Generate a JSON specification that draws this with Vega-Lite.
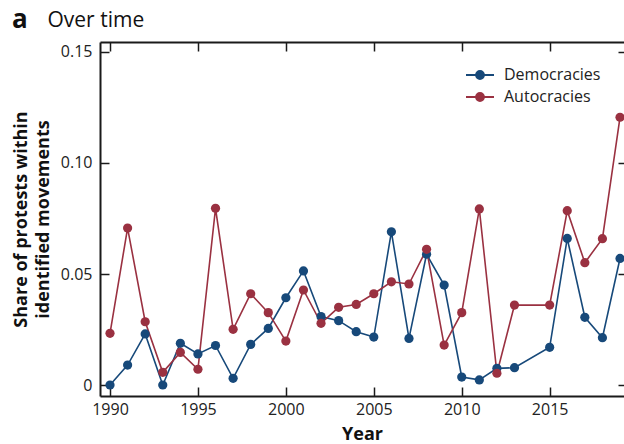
{
  "$schema": "https://vega.github.io/schema/vega-lite/v6.json",
  "autosize": "none",
  "width": 524,
  "height": 354,
  "padding": {"left": 100, "top": 42, "right": 0, "bottom": 48},
  "background": "white",
  "config": {
    "view": {"stroke": null},
    "font": "Open Sans",
    "axis": {"grid": false, "domainColor": "#1a1a1a", "tickColor": "#1a1a1a", "domainWidth": 2, "tickWidth": 1.5, "labelColor": "#222", "titleColor": "#111"}
  },
  "title": {"text": "a", "anchor": "start", "frame": "group", "fontSize": 26, "fontWeight": "bold", "color": "#111", "dx": -88, "offset": 0, "dy": 24},
  "data": {"values": [
    {"year": 1990, "group": "Democracies", "share": 0},
    {"year": 1991, "group": "Democracies", "share": 0.009},
    {"year": 1992, "group": "Democracies", "share": 0.023},
    {"year": 1993, "group": "Democracies", "share": 0},
    {"year": 1994, "group": "Democracies", "share": 0.0188},
    {"year": 1995, "group": "Democracies", "share": 0.014},
    {"year": 1996, "group": "Democracies", "share": 0.0178},
    {"year": 1997, "group": "Democracies", "share": 0.003},
    {"year": 1998, "group": "Democracies", "share": 0.0183},
    {"year": 1999, "group": "Democracies", "share": 0.0255},
    {"year": 2000, "group": "Democracies", "share": 0.0393},
    {"year": 2001, "group": "Democracies", "share": 0.0514},
    {"year": 2002, "group": "Democracies", "share": 0.0308},
    {"year": 2003, "group": "Democracies", "share": 0.029},
    {"year": 2004, "group": "Democracies", "share": 0.024},
    {"year": 2005, "group": "Democracies", "share": 0.0216},
    {"year": 2006, "group": "Democracies", "share": 0.069},
    {"year": 2007, "group": "Democracies", "share": 0.021},
    {"year": 2008, "group": "Democracies", "share": 0.0589},
    {"year": 2009, "group": "Democracies", "share": 0.045},
    {"year": 2010, "group": "Democracies", "share": 0.0036},
    {"year": 2011, "group": "Democracies", "share": 0.0023},
    {"year": 2012, "group": "Democracies", "share": 0.0075},
    {"year": 2013, "group": "Democracies", "share": 0.0078},
    {"year": 2015, "group": "Democracies", "share": 0.017},
    {"year": 2016, "group": "Democracies", "share": 0.066},
    {"year": 2017, "group": "Democracies", "share": 0.0305},
    {"year": 2018, "group": "Democracies", "share": 0.0213},
    {"year": 2019, "group": "Democracies", "share": 0.057},
    {"year": 1990, "group": "Autocracies", "share": 0.0233},
    {"year": 1991, "group": "Autocracies", "share": 0.0707},
    {"year": 1992, "group": "Autocracies", "share": 0.0285},
    {"year": 1993, "group": "Autocracies", "share": 0.0057},
    {"year": 1994, "group": "Autocracies", "share": 0.0147},
    {"year": 1995, "group": "Autocracies", "share": 0.0071},
    {"year": 1996, "group": "Autocracies", "share": 0.0796},
    {"year": 1997, "group": "Autocracies", "share": 0.0251},
    {"year": 1998, "group": "Autocracies", "share": 0.0411},
    {"year": 1999, "group": "Autocracies", "share": 0.0326},
    {"year": 2000, "group": "Autocracies", "share": 0.0198},
    {"year": 2001, "group": "Autocracies", "share": 0.0428},
    {"year": 2002, "group": "Autocracies", "share": 0.0278},
    {"year": 2003, "group": "Autocracies", "share": 0.035},
    {"year": 2004, "group": "Autocracies", "share": 0.0363},
    {"year": 2005, "group": "Autocracies", "share": 0.0411},
    {"year": 2006, "group": "Autocracies", "share": 0.0465},
    {"year": 2007, "group": "Autocracies", "share": 0.0455},
    {"year": 2008, "group": "Autocracies", "share": 0.0611},
    {"year": 2009, "group": "Autocracies", "share": 0.018},
    {"year": 2010, "group": "Autocracies", "share": 0.0326},
    {"year": 2011, "group": "Autocracies", "share": 0.0793},
    {"year": 2012, "group": "Autocracies", "share": 0.0053},
    {"year": 2013, "group": "Autocracies", "share": 0.036},
    {"year": 2015, "group": "Autocracies", "share": 0.036},
    {"year": 2016, "group": "Autocracies", "share": 0.0785},
    {"year": 2017, "group": "Autocracies", "share": 0.0551},
    {"year": 2018, "group": "Autocracies", "share": 0.0659},
    {"year": 2019, "group": "Autocracies", "share": 0.1206}
  ]},
  "resolve": {"axis": {"x": "independent", "y": "independent"}},
  "layer": [
    {
      "mark": {"type": "line", "strokeWidth": 1.6},
      "encoding": {
        "x": {"field": "year", "type": "quantitative",
              "scale": {"domain": [1989.431, 2019.227], "nice": false, "zero": false},
              "axis": {"orient": "bottom", "values": [1990, 1995, 2000, 2005, 2010, 2015], "format": "d",
                       "tickSize": -9, "labelPadding": 14, "labelFontSize": 16, "labelFlush": false,
                       "title": "Year", "titleFontSize": 18, "titleFontWeight": "bold", "titlePadding": 8}},
        "y": {"field": "share", "type": "quantitative",
              "scale": {"domain": [-0.00495, 0.1545], "nice": false, "zero": false},
              "axis": {"orient": "left", "values": [0, 0.05, 0.1, 0.15],
                       "labelExpr": "datum.value == 0 ? '0' : format(datum.value, '.2f')",
                       "tickSize": -9, "labelPadding": 17, "labelFontSize": 16,
                       "title": ["Share of protests within", "identified movements"],
                       "titleFontSize": 18, "titleFontWeight": "bold", "titleLineHeight": 22, "titlePadding": 8}},
        "color": {"field": "group", "type": "nominal",
                  "scale": {"domain": ["Democracies", "Autocracies"], "range": ["#17497a", "#9a3141"]},
                  "legend": {"orient": "none", "legendX": 369, "legendY": 22, "title": null, "padding": 0,
                             "symbolType": "M-1.4,0L1.4,0M-0.4,0A0.4,0.4,0,1,0,0.4,0A0.4,0.4,0,1,0,-0.4,0Z",
                             "symbolSize": 400, "symbolStrokeWidth": 1.8, "labelFontSize": 16, "labelOffset": 13,
                             "rowPadding": 3, "labelColor": "#222",
                             "encode": {"symbols": {"update": {"fill": {"scale": "color", "field": "value"}, "stroke": {"scale": "color", "field": "value"}, "opacity": {"value": 1}}}}}}
      }
    },
    {
      "mark": {"type": "point", "filled": true, "size": 85, "opacity": 1},
      "encoding": {
        "x": {"field": "year", "type": "quantitative",
              "axis": {"orient": "top", "values": [1990, 1995, 2000, 2005, 2010, 2015], "labels": false,
                       "tickSize": -9, "title": "Over time", "titleFontSize": 21, "titleFontWeight": "normal",
                       "titleAnchor": "start", "titleAlign": "left", "titleX": -53, "titleY": -16, "titleBaseline": "alphabetic"}},
        "y": {"field": "share", "type": "quantitative",
              "axis": {"orient": "right", "values": [0, 0.05, 0.1, 0.15], "labels": false, "domain": false,
                       "tickSize": -6, "title": null}},
        "color": {"field": "group", "type": "nominal"}
      }
    }
  ]
}
